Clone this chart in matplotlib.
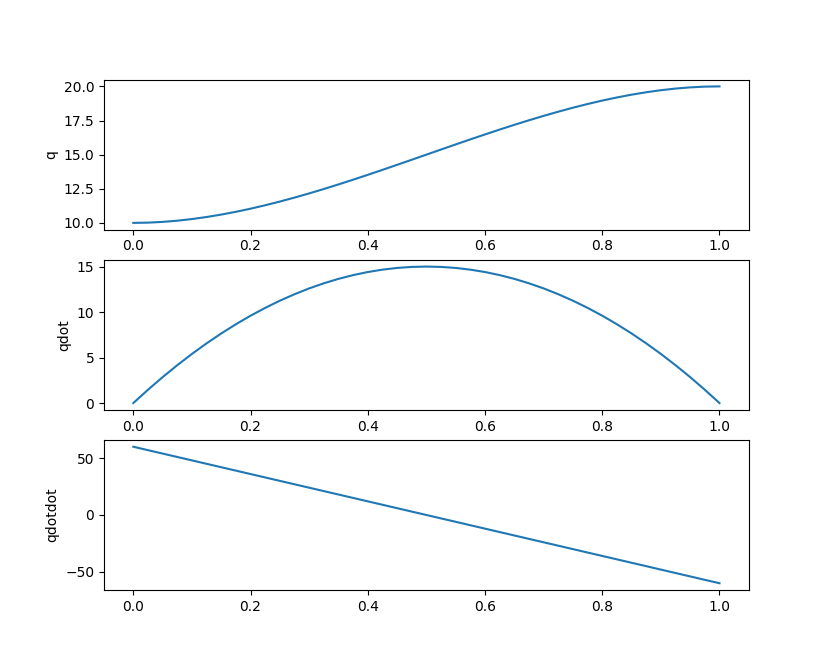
import matplotlib
matplotlib.use('Agg')
import matplotlib.pyplot as plt

# === DATA ===
t = [0.0, 0.025, 0.05, 0.075, 0.1, 0.125, 0.15, 0.175, 0.2, 0.225,
     0.25, 0.275, 0.3, 0.325, 0.35, 0.375, 0.4, 0.425, 0.45, 0.475,
     0.5, 0.525, 0.55, 0.575, 0.6, 0.625, 0.65, 0.675, 0.7, 0.725,
     0.75, 0.775, 0.8, 0.825, 0.85, 0.875, 0.9, 0.925, 0.95, 0.975, 1.0]
q = [10.0, 10.018, 10.073, 10.160, 10.28, 10.430, 10.608, 10.812, 11.04, 11.291,
     11.563, 11.853, 12.16, 12.482, 12.818, 13.164, 13.52, 13.883, 14.253, 14.625,
     15.0, 15.375, 15.748, 16.117, 16.48, 16.836, 17.183, 17.518, 17.84, 18.147,
     18.438, 18.709, 18.96, 19.188, 19.393, 19.570, 19.72, 19.840, 19.928, 19.982, 20.0]
qdot = [0.0, 1.46, 2.85, 4.16, 5.4, 6.56, 7.65, 8.66, 9.6, 10.46,
        11.25, 11.96, 12.6, 13.16, 13.65, 14.06, 14.4, 14.66, 14.85, 14.96,
        15.0, 14.96, 14.85, 14.66, 14.4, 14.06, 13.65, 13.16, 12.6, 11.96,
        11.25, 10.46, 9.6, 8.66, 7.65, 6.56, 5.4, 4.16, 2.85, 1.46, 0.0]
qdotdot = [60, 57, 54, 51, 48, 45, 42, 39, 36, 33,
           30, 27, 24, 21, 18, 15, 12, 9, 6, 3,
           0, -3, -6, -9, -12, -15, -18, -21, -24, -27,
           -30, -33, -36, -39, -42, -45, -48, -51, -54, -57, -60]

# === GRAFICO ===
fig, axs = plt.subplots(3, 1, figsize=(8.32, 6.63), dpi=100)

axs[0].plot(t, q)
axs[0].set_ylabel('q')

axs[1].plot(t, qdot)
axs[1].set_ylabel('qdot')

axs[2].plot(t, qdotdot)
axs[2].set_ylabel('qdotdot')

fig.savefig('out.png')
